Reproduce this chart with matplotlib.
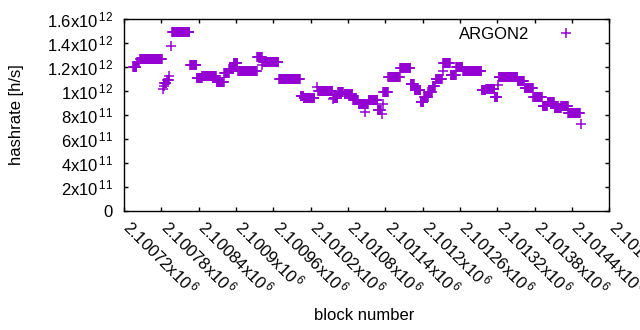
import numpy as np
import matplotlib
matplotlib.use("Agg")
import matplotlib.pyplot as plt
import matplotlib.transforms as mtransforms

plt.rcParams['font.family'] = ['Liberation Sans', 'DejaVu Sans']
plt.rcParams['mathtext.fontset'] = 'custom'
plt.rcParams['mathtext.rm'] = 'Liberation Sans'
plt.rcParams['mathtext.it'] = 'Liberation Sans:italic'
plt.rcParams['mathtext.bf'] = 'Liberation Sans:bold'
plt.rcParams['mathtext.default'] = 'rm'

# runs of blocks that share one hashrate value (first block, last block, hashrate in 1e12 h/s)
run_first = [2100735, 2100741, 2100746, 2100782, 2100784, 2100785, 2100789, 2100793,
             2100796, 2100797, 2100826, 2100837, 2100846, 2100869, 2100881, 2100889,
             2100896, 2100904, 2100934, 2100942, 2100944, 2100969, 2101004, 2101009,
             2101030, 2101032, 2101056, 2101057, 2101064, 2101075, 2101088, 2101097,
             2101108, 2101113, 2101128, 2101134, 2101136, 2101137, 2101145, 2101164,
             2101181, 2101187, 2101197, 2101202, 2101209, 2101216, 2101221, 2101232,
             2101233, 2101245, 2101254, 2101265, 2101295, 2101302, 2101316, 2101321,
             2101322, 2101353, 2101364, 2101378, 2101393, 2101401, 2101412, 2101423,
             2101434, 2101455]
run_last = [2100740, 2100744, 2100781, 2100782, 2100784, 2100788, 2100792, 2100793,
            2100796, 2100825, 2100836, 2100845, 2100868, 2100880, 2100888, 2100895,
            2100902, 2100933, 2100941, 2100942, 2100968, 2101003, 2101008, 2101026,
            2101030, 2101055, 2101056, 2101063, 2101072, 2101087, 2101096, 2101112,
            2101108, 2101127, 2101133, 2101134, 2101136, 2101144, 2101163, 2101180,
            2101186, 2101196, 2101201, 2101208, 2101215, 2101220, 2101231, 2101232,
            2101244, 2101253, 2101264, 2101294, 2101301, 2101315, 2101320, 2101321,
            2101352, 2101363, 2101377, 2101392, 2101400, 2101411, 2101422, 2101433,
            2101453, 2101455]
run_rate = [1.20, 1.24, 1.27, 1.02, 1.04, 1.07, 1.09, 1.125,
            1.375, 1.49, 1.217, 1.11, 1.13, 1.08, 1.154, 1.183,
            1.236, 1.172, 1.289, 1.217, 1.246, 1.10, 0.963, 0.944,
            1.036, 1.005, 0.931, 0.94, 0.997, 0.98, 0.925, 0.897,
            0.828, 0.925, 0.84, 0.81, 0.89, 0.994, 1.122, 1.197,
            1.058, 1.006, 0.908, 0.953, 0.994, 1.04, 1.10, 1.167,
            1.233, 1.136, 1.20, 1.172, 1.006, 1.022, 0.95, 1.05,
            1.117, 1.083, 1.029, 0.948, 0.879, 0.906, 0.856, 0.879,
            0.814, 0.722]

x_ticks = np.arange(2100720, 2101501, 60)
y_ticks = [0, 2e11, 4e11, 6e11, 8e11, 1e12, 1.2e12, 1.4e12, 1.6e12]
y_labels = ['0', r'2x10$^{\,11}$', r'4x10$^{\,11}$', r'6x10$^{\,11}$', r'8x10$^{\,11}$',
            r'1x10$^{\,12}$', r'1.2x10$^{\,12}$', r'1.4x10$^{\,12}$', r'1.6x10$^{\,12}$']

blocks = np.concatenate([np.arange(a, b + 1) for a, b in zip(run_first, run_last)])
rates = np.concatenate([np.full(b - a + 1, r * 1e12) for a, b, r in zip(run_first, run_last, run_rate)])

fig = plt.figure(figsize=(6.4, 3.3), dpi=100)
ax = fig.add_axes([124 / 640, 1 - 211 / 330, 485.3 / 640, 191.7 / 330])

ax.plot(blocks, rates, '+', color='#9400d3', markersize=6.5, markeredgewidth=1.1,
        linestyle='none', label='ARGON2')

ax.set_xlim(2100720, 2101500)
ax.set_ylim(0, 1.6e12)
ax.set_xticks(x_ticks)
ax.set_xticklabels([r'%.6gx10$^{\,6}$' % (t / 1e6) for t in x_ticks], rotation=-45,
                   ha='left', va='center', rotation_mode='anchor')
ax.set_yticks(y_ticks)
ax.set_yticklabels(y_labels)
ax.tick_params(axis='both', direction='in', length=3, width=1, labelsize=12,
               top=True, right=True)
ax.tick_params(axis='y', pad=8)
ax.tick_params(axis='x', pad=9)
shift = mtransforms.ScaledTranslation(3 / 100, 0, fig.dpi_scale_trans)
for lab in ax.get_xticklabels():
    lab.set_transform(lab.get_transform() + shift)
for spine in ax.spines.values():
    spine.set_linewidth(1)

ax.legend(loc='upper right', bbox_to_anchor=(0.946, 0.962), frameon=False, markerfirst=False,
          handlelength=2, handletextpad=1.2, borderaxespad=0, borderpad=0, fontsize=12)

fig.text(17 / 640, 1 - 115 / 330, 'hashrate [h/s]', rotation=90, ha='center', va='center', fontsize=12)
fig.text(364 / 640, 1 - 316 / 330, 'block number', ha='center', va='center', fontsize=12)

fig.savefig('out.png', dpi=100)
